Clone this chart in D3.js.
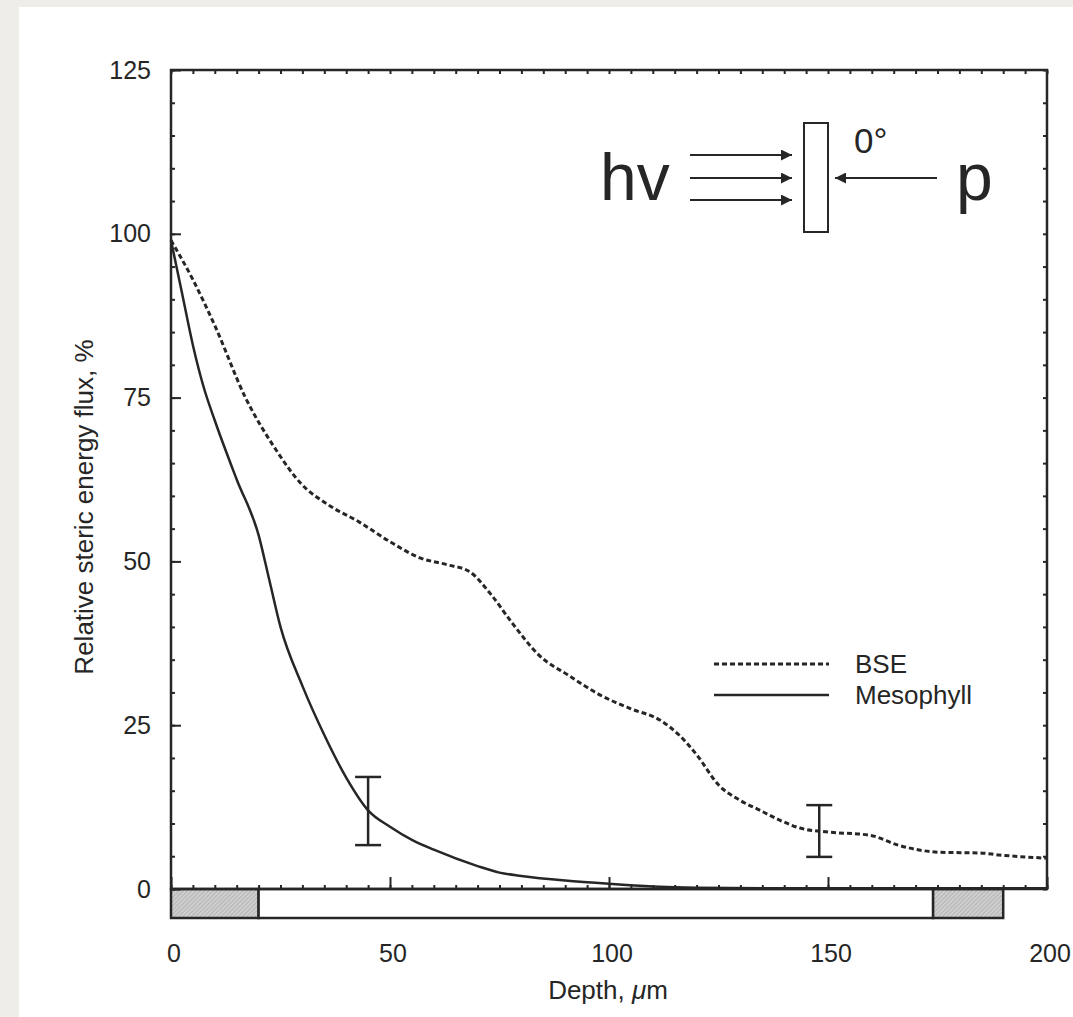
<!DOCTYPE html>
<html>
<head>
<meta charset="utf-8">
<script src="https://cdn.jsdelivr.net/npm/d3@7"></script>
<style>
	body { margin: 0; background: #eeede9; }
	svg { display: block; font-family: 'Liberation Sans', Arial, sans-serif; }
	.axis text { font-size: 25px; fill: #262626; }
	.axis line { stroke: #262626; stroke-width: 2; }
</style>
</head>
<body>
<svg id="chart" width="1073" height="1017"></svg>
<script>
const WIDTH = 1073;
const HEIGHT = 1017;

// depth (um) and relative flux (%)
const mesoDepth = [0, 2.5, 5, 7.5, 10, 15, 20, 22.5, 25, 30, 35, 40, 45, 50, 55, 60, 70, 75, 80, 90, 100, 110, 120, 140, 160, 180, 200];
const mesoValue = [99, 91, 83, 76.5, 71.5, 62.5, 54, 47, 40, 31, 23.5, 17, 12, 9.5, 7.5, 6, 3.5, 2.5, 2, 1.3, 0.8, 0.4, 0.2, 0.1, 0.1, 0.1, 0.1];

const bseDepth = [0, 5, 10, 17, 24, 29.5, 36, 43, 50, 57, 63, 68, 73, 78, 84, 91, 98, 105, 111.6, 116, 120, 125, 130, 134.5, 139, 143.6, 150, 159.6, 166, 175.6, 184.7, 189, 200];
const bseValue = [99, 93, 86, 75, 67, 62, 58.6, 56, 53, 50.5, 49.5, 48.5, 45, 40.5, 35.7, 32.5, 29.6, 27.5, 25.8, 23.5, 20.5, 15.9, 13.5, 12, 10.5, 9.3, 8.7, 8.2, 6.7, 5.6, 5.5, 5.2, 4.7];

// error bars: depth, low, high
const errDepth = [45, 148];
const errLow = [6.7, 4.9];
const errHigh = [17.1, 12.8];

// leaf cross-section bar under the axis
const layerStart = [0, 20, 174];
const layerEnd = [20, 174, 190];
const layerHatched = [true, false, true];

const yTicks = [0, 25, 50, 75, 100, 125];
const xTicks = [0, 50, 100, 150, 200];
const legendNames = ['BSE', 'Mesophyll'];

const INK = '#262626';

const svg = d3.select('#chart');

// paper
svg.append('rect')
	.attr('x', 19).attr('y', 7)
	.attr('width', WIDTH - 19).attr('height', HEIGHT - 7)
	.attr('fill', '#ffffff');

const defs = svg.append('defs');
const hatch = defs.append('pattern')
	.attr('id', 'hatch')
	.attr('patternUnits', 'userSpaceOnUse')
	.attr('width', 3).attr('height', 3)
	.attr('patternTransform', 'rotate(45)');
hatch.append('rect').attr('width', 3).attr('height', 3).attr('fill', '#cfcfcf');
hatch.append('line')
	.attr('x1', 0).attr('y1', 0).attr('x2', 0).attr('y2', 3)
	.attr('stroke', '#9a9a9a').attr('stroke-width', 1);

defs.append('marker')
	.attr('id', 'head')
	.attr('viewBox', '0 0 10 10')
	.attr('refX', 10).attr('refY', 5)
	.attr('markerUnits', 'userSpaceOnUse')
	.attr('markerWidth', 15).attr('markerHeight', 11)
	.attr('orient', 'auto')
	.append('path')
	.attr('d', 'M0,0 L10,5 L0,10 Z')
	.attr('fill', INK);

const x = d3.scaleLinear().domain([0, 200]).range([171, 1047]);
const y = d3.scaleLinear().domain([0, 125]).range([889, 70]);

// cross-section bar
const layers = layerStart.map((s, i) => ({ s, e: layerEnd[i], h: layerHatched[i] }));
svg.append('g')
	.selectAll('rect')
	.data(layers)
	.join('rect')
	.attr('x', d => x(d.s))
	.attr('y', y(0))
	.attr('width', d => x(d.e) - x(d.s))
	.attr('height', 29)
	.attr('fill', d => (d.h ? 'url(#hatch)' : '#fff'))
	.attr('stroke', INK)
	.attr('stroke-width', 2.5);

// frame
svg.append('rect')
	.attr('x', x(0)).attr('y', y(125))
	.attr('width', x(200) - x(0)).attr('height', y(0) - y(125))
	.attr('fill', 'none')
	.attr('stroke', INK)
	.attr('stroke-width', 2.5);

// axes: major ticks with labels, minor ticks inward, mirrored on top/right
const minorY = d3.range(0, 126, 5);
const minorX = d3.range(0, 201, 5);

svg.append('g').attr('class', 'axis')
	.attr('transform', `translate(${x(0)},0)`)
	.call(d3.axisLeft(y).tickValues(yTicks).tickSizeInner(-10).tickSizeOuter(0).tickPadding(20));
svg.append('g').attr('class', 'axis')
	.attr('transform', `translate(${x(0)},0)`)
	.call(d3.axisLeft(y).tickValues(minorY).tickSizeInner(-4).tickSizeOuter(0).tickFormat(''));
svg.append('g').attr('class', 'axis')
	.attr('transform', `translate(${x(200)},0)`)
	.call(d3.axisRight(y).tickValues(minorY).tickSizeInner(-4).tickSizeOuter(0).tickFormat(''));

const bottom = svg.append('g').attr('class', 'axis')
	.attr('transform', `translate(0,${y(0)})`)
	.call(d3.axisBottom(x).tickValues(xTicks).tickSizeInner(-12).tickSizeOuter(0).tickPadding(55));
svg.append('g').attr('class', 'axis')
	.attr('transform', `translate(0,${y(0)})`)
	.call(d3.axisBottom(x).tickValues(minorX).tickSizeInner(-4).tickSizeOuter(0).tickFormat(''));
svg.append('g').attr('class', 'axis')
	.attr('transform', `translate(0,${y(125)})`)
	.call(d3.axisTop(x).tickValues(minorX).tickSizeInner(-4).tickSizeOuter(0).tickFormat(''));

svg.selectAll('.axis .domain').remove();
bottom.selectAll('text').attr('dx', '0.1em');

// axis titles
svg.append('text')
	.attr('transform', 'translate(93,507) rotate(-90)')
	.attr('text-anchor', 'middle')
	.attr('font-size', 26)
	.attr('fill', INK)
	.text('Relative steric energy flux, %');

const xt = svg.append('text')
	.attr('x', 608).attr('y', 999)
	.attr('text-anchor', 'middle')
	.attr('font-size', 26)
	.attr('fill', INK);
xt.append('tspan').text('Depth,  ');
xt.append('tspan').attr('font-style', 'italic').text('μ');
xt.append('tspan').text('m');

// curves
const line = d3.line()
	.x(d => x(d[0]))
	.y(d => y(d[1]))
	.curve(d3.curveMonotoneX);

svg.append('path')
	.datum(bseDepth.map((d, i) => [d, bseValue[i]]))
	.attr('d', line)
	.attr('fill', 'none')
	.attr('stroke', INK)
	.attr('stroke-width', 3)
	.attr('stroke-dasharray', '5,3');

svg.append('path')
	.datum(mesoDepth.map((d, i) => [d, mesoValue[i]]))
	.attr('d', line)
	.attr('fill', 'none')
	.attr('stroke', INK)
	.attr('stroke-width', 2.5);

// error bars
const errs = errDepth.map((d, i) => ({ d, lo: errLow[i], hi: errHigh[i] }));
const eg = svg.append('g').attr('stroke', INK).attr('stroke-width', 2.5);
eg.selectAll('.err-v').data(errs).join('line')
	.attr('x1', d => x(d.d)).attr('x2', d => x(d.d))
	.attr('y1', d => y(d.lo)).attr('y2', d => y(d.hi));
eg.selectAll('.err-lo').data(errs).join('line')
	.attr('x1', d => x(d.d) - 13).attr('x2', d => x(d.d) + 13)
	.attr('y1', d => y(d.lo)).attr('y2', d => y(d.lo));
eg.selectAll('.err-hi').data(errs).join('line')
	.attr('x1', d => x(d.d) - 13).attr('x2', d => x(d.d) + 13)
	.attr('y1', d => y(d.hi)).attr('y2', d => y(d.hi));

// legend
const legend = svg.append('g').attr('transform', 'translate(714,664)');
legendNames.forEach((name, i) => {
	legend.append('line')
		.attr('x1', 0).attr('x2', 115)
		.attr('y1', i * 31).attr('y2', i * 31)
		.attr('stroke', INK)
		.attr('stroke-width', i === 0 ? 3 : 2.5)
		.attr('stroke-dasharray', i === 0 ? '5,3' : null);
	legend.append('text')
		.attr('x', 141).attr('y', i * 31 + 9)
		.attr('font-size', 26)
		.attr('fill', INK)
		.text(name);
});

// geometry sketch
const sk = svg.append('g').attr('fill', INK);
sk.append('text').attr('x', 600).attr('y', 200).attr('font-size', 66).text('hv');
sk.append('text').attr('x', 956).attr('y', 200).attr('font-size', 66).text('p');
sk.append('text').attr('x', 854).attr('y', 153).attr('font-size', 35).text('0°');
[155, 178, 200].forEach(yy => {
	sk.append('line')
		.attr('x1', 690).attr('x2', 792)
		.attr('y1', yy).attr('y2', yy)
		.attr('stroke', INK).attr('stroke-width', 2)
		.attr('marker-end', 'url(#head)');
});
sk.append('line')
	.attr('x1', 937).attr('x2', 835)
	.attr('y1', 178).attr('y2', 178)
	.attr('stroke', INK).attr('stroke-width', 2)
	.attr('marker-end', 'url(#head)');
sk.append('rect')
	.attr('x', 804).attr('y', 123)
	.attr('width', 24).attr('height', 109)
	.attr('fill', '#fff')
	.attr('stroke', INK).attr('stroke-width', 2);
</script>
</body>
</html>
